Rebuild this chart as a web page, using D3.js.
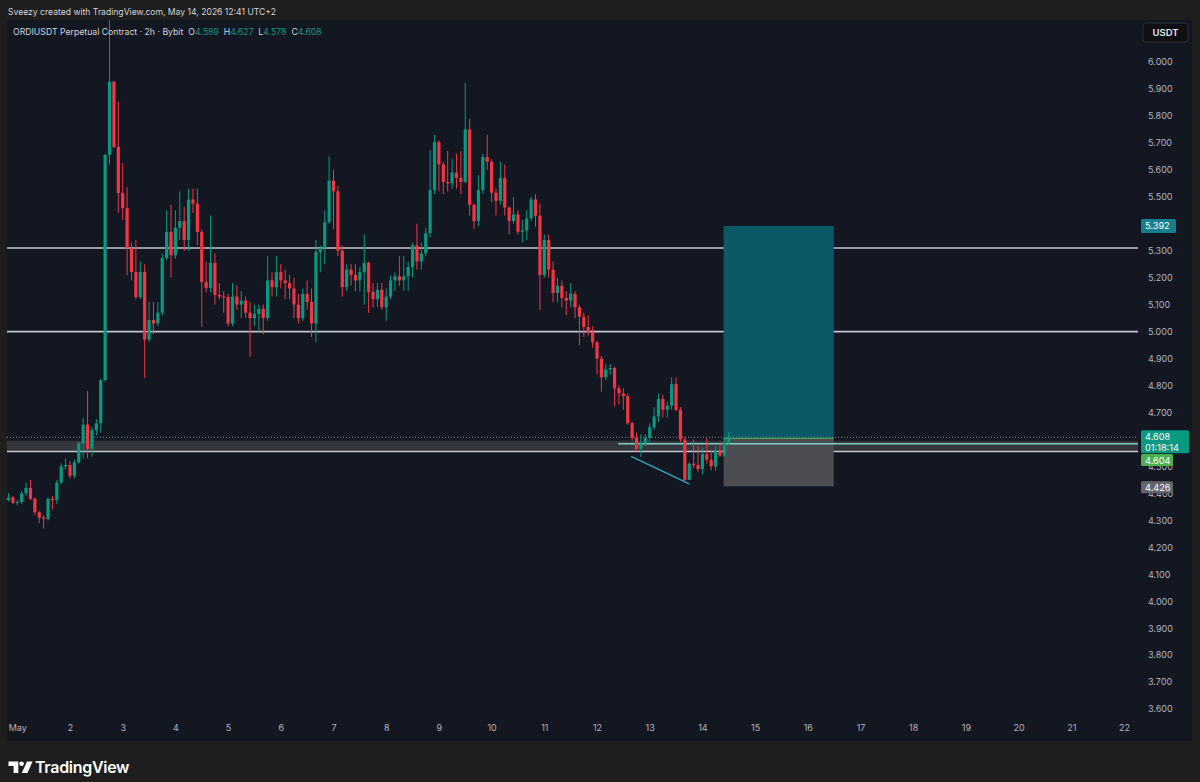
<!DOCTYPE html>
<html>
<head>
<meta charset="utf-8">
<script src="https://cdn.jsdelivr.net/npm/d3@7"></script>
<style>
  html, body { margin: 0; padding: 0; background: #1e1e1e; }
  svg { display: block; font-family: Inter, "Noto Sans", sans-serif; }
</style>
</head>
<body>
<div id="chart"></div>
<script>
'use strict';

// ORDIUSDT 2h bars, first bar opens Apr 30 20:00
const startTime = new Date(2026, 3, 30, 20, 0);

const opens = [
    4.375, 4.385, 4.365, 4.368, 4.40, 4.42, 4.38, 4.33, 4.31, 4.305,
    4.38, 4.375, 4.44, 4.50, 4.505, 4.465, 4.515, 4.585, 4.655, 4.565,
    4.635, 4.66, 4.82, 5.655, 5.927, 5.685, 5.514, 5.458, 5.31, 5.221,
    5.128, 5.221, 4.97, 5.043, 5.03, 5.07, 5.273, 5.37, 5.283, 5.385,
    5.41, 5.34, 5.49, 5.475, 5.37, 5.184, 5.162, 5.255, 5.136, 5.13,
    5.128, 5.03, 5.13, 5.10, 5.115, 5.07, 5.05, 5.065, 5.085, 5.05,
    5.19, 5.165, 5.22, 5.19, 5.18, 5.16, 5.10, 5.05, 5.14, 5.11,
    5.03, 5.295, 5.31, 5.405, 5.56, 5.52, 5.30, 5.165, 5.23, 5.21, 5.19,
    5.22, 5.255, 5.147, 5.12, 5.155, 5.09, 5.13, 5.19, 5.205, 5.19,
    5.205, 5.24, 5.32, 5.26, 5.29, 5.365, 5.525, 5.703, 5.62, 5.555,
    5.55, 5.59, 5.57, 5.555, 5.75, 5.47, 5.41, 5.525, 5.648, 5.63,
    5.515, 5.485, 5.57, 5.46, 5.41, 5.435, 5.37, 5.375, 5.42, 5.49, 5.43, 5.21,
    5.34, 5.23, 5.143, 5.17, 5.125, 5.115, 5.14, 5.09, 5.055, 5.017,
    4.998, 4.96, 4.90, 4.83, 4.86, 4.865, 4.79, 4.77, 4.76, 4.66,
    4.605, 4.565, 4.585, 4.605, 4.645, 4.685, 4.75, 4.71, 4.725, 4.805,
    4.71, 4.60, 4.45, 4.51, 4.505, 4.49, 4.545, 4.525, 4.50, 4.56, 4.54, 4.589
];
const highs = [
    4.40, 4.39, 4.375, 4.41, 4.44, 4.45, 4.385, 4.335, 4.32, 4.385,
    4.39, 4.45, 4.51, 4.53, 4.52, 4.525, 4.59, 4.68, 4.78, 4.645,
    4.675, 4.825, 5.66, 6.20, 5.93, 5.853, 5.625, 5.536, 5.33, 5.34,
    5.26, 5.25, 5.11, 5.11, 5.11, 5.29, 5.45, 5.47, 5.45, 5.52,
    5.463, 5.53, 5.53, 5.53, 5.38, 5.26, 5.43, 5.29, 5.18, 5.15,
    5.14, 5.18, 5.17, 5.15, 5.13, 5.11, 5.10, 5.10, 5.10, 5.28,
    5.22, 5.28, 5.25, 5.23, 5.21, 5.20, 5.14, 5.16, 5.19, 5.16,
    5.34, 5.32, 5.45, 5.65, 5.60, 5.54, 5.32, 5.25, 5.25, 5.25, 5.24,
    5.36, 5.26, 5.18, 5.18, 5.18, 5.16, 5.21, 5.22, 5.28, 5.28,
    5.26, 5.33, 5.40, 5.33, 5.385, 5.674, 5.73, 5.71, 5.63, 5.67,
    5.64, 5.66, 5.67, 5.922, 5.79, 5.475, 5.58, 5.66, 5.73, 5.64,
    5.53, 5.63, 5.62, 5.465, 5.50, 5.45, 5.415, 5.45, 5.50, 5.51, 5.475, 5.36,
    5.36, 5.26, 5.20, 5.19, 5.15, 5.18, 5.15, 5.10, 5.07, 5.06,
    5.02, 4.965, 4.91, 4.88, 4.88, 4.87, 4.80, 4.79, 4.77, 4.665,
    4.625, 4.62, 4.62, 4.66, 4.72, 4.77, 4.765, 4.74, 4.83, 4.83,
    4.72, 4.61, 4.515, 4.60, 4.575, 4.57, 4.605, 4.56, 4.575, 4.59, 4.605, 4.627
];
const lows = [
    4.37, 4.36, 4.355, 4.36, 4.39, 4.375, 4.32, 4.29, 4.27, 4.30,
    4.34, 4.36, 4.435, 4.49, 4.455, 4.455, 4.51, 4.53, 4.53, 4.535,
    4.615, 4.625, 4.815, 5.62, 5.68, 5.44, 5.414, 5.21, 5.19, 5.12,
    5.12, 4.828, 4.96, 4.99, 5.02, 5.06, 5.265, 5.20, 5.27, 5.34,
    5.30, 5.30, 5.44, 5.32, 5.018, 5.145, 5.145, 5.10, 5.12, 5.07,
    5.02, 5.02, 5.08, 5.05, 5.05, 4.907, 5.02, 5.00, 4.99, 5.04,
    5.13, 5.13, 5.16, 5.12, 5.12, 5.05, 5.03, 5.04, 5.08, 4.98,
    4.96, 5.22, 5.25, 5.40, 5.38, 5.28, 5.13, 5.15, 5.17, 5.15, 5.15,
    5.10, 5.069, 5.09, 5.09, 5.08, 5.04, 5.12, 5.15, 5.17, 5.15,
    5.15, 5.20, 5.23, 5.23, 5.28, 5.35, 5.51, 5.52, 5.51, 5.52,
    5.53, 5.53, 5.51, 5.55, 5.43, 5.38, 5.39, 5.51, 5.60, 5.48,
    5.43, 5.47, 5.43, 5.36, 5.40, 5.36, 5.33, 5.34, 5.41, 5.39, 5.08, 5.20,
    5.20, 5.11, 5.11, 5.09, 5.06, 5.09, 5.05, 4.95, 4.98, 4.985,
    4.94, 4.84, 4.777, 4.82, 4.84, 4.722, 4.73, 4.71, 4.655, 4.595,
    4.555, 4.535, 4.575, 4.59, 4.635, 4.665, 4.68, 4.68, 4.71, 4.705,
    4.59, 4.445, 4.45, 4.495, 4.48, 4.47, 4.51, 4.485, 4.485, 4.535, 4.535, 4.578
];
const closes = [
    4.385, 4.365, 4.368, 4.40, 4.42, 4.38, 4.33, 4.31, 4.305, 4.38,
    4.375, 4.44, 4.50, 4.505, 4.465, 4.515, 4.585, 4.655, 4.565, 4.635,
    4.66, 4.82, 5.655, 5.927, 5.685, 5.514, 5.458, 5.31, 5.221, 5.128,
    5.221, 4.97, 5.043, 5.03, 5.07, 5.273, 5.37, 5.283, 5.385, 5.41,
    5.34, 5.49, 5.475, 5.37, 5.184, 5.162, 5.255, 5.136, 5.13, 5.128,
    5.03, 5.13, 5.10, 5.115, 5.07, 5.05, 5.065, 5.085, 5.05, 5.19,
    5.165, 5.22, 5.19, 5.18, 5.16, 5.10, 5.05, 5.14, 5.11, 5.03,
    5.295, 5.31, 5.405, 5.56, 5.52, 5.30, 5.165, 5.23, 5.21, 5.19, 5.22,
    5.255, 5.147, 5.12, 5.155, 5.09, 5.13, 5.19, 5.205, 5.19, 5.205,
    5.24, 5.32, 5.26, 5.29, 5.365, 5.525, 5.703, 5.62, 5.555, 5.55,
    5.59, 5.57, 5.555, 5.75, 5.47, 5.41, 5.525, 5.648, 5.63, 5.515,
    5.485, 5.57, 5.46, 5.41, 5.435, 5.37, 5.375, 5.42, 5.49, 5.43, 5.21, 5.34,
    5.23, 5.143, 5.17, 5.125, 5.115, 5.14, 5.09, 5.055, 5.017, 4.998,
    4.96, 4.90, 4.83, 4.86, 4.865, 4.79, 4.77, 4.76, 4.66, 4.605,
    4.565, 4.585, 4.605, 4.645, 4.685, 4.75, 4.71, 4.725, 4.805, 4.71,
    4.60, 4.45, 4.51, 4.505, 4.49, 4.545, 4.525, 4.50, 4.56, 4.54, 4.589, 4.608
];

// 5.400 and 4.600 sit under the price tags, so they are left out
const priceTicks = [3.6, 3.7, 3.8, 3.9, 4.0, 4.1, 4.2, 4.3, 4.4, 4.5, 4.7, 4.8,
    4.9, 5.0, 5.1, 5.2, 5.3, 5.5, 5.6, 5.7, 5.8, 5.9, 6.0];

// drawings
const levels = [5.31, 5.0, 4.555];
const zoneBand = [4.555, 4.595];
const rayLevel = { t: new Date(2026, 4, 12, 9, 40), p: 4.584 };
const trendLine = [
    { t: new Date(2026, 4, 12, 15, 30), p: 4.537 },
    { t: new Date(2026, 4, 13, 18, 0), p: 4.435 }
];
const position = {
    from: new Date(2026, 4, 14, 9, 40),
    to: new Date(2026, 4, 16, 11, 50),
    entry: 4.604, target: 5.392, stop: 4.426
};
const countdown = '01:18:14';

const W = 1200, H = 782;
const panel = { x0: 7, x1: 1192, y0: 20, y1: 741 };
const plot = { x0: 7, x1: 1138, y0: 20, y1: 718 };
const UP = '#089981', DOWN = '#f23645';

const bars = opens.map((o, i) => ({
    t: d3.timeHour.offset(startTime, 2 * i),
    o: o, h: highs[i], l: lows[i], c: closes[i]
}));
const last = bars[bars.length - 1];

const x = d3.scaleTime()
    .domain([new Date(2026, 4, 1), new Date(2026, 4, 23)])
    .range([17.3, 1176.7]);
const y = d3.scaleLinear().domain([3.6, 6.0]).range([709, 62]);

const svg = d3.select('#chart').append('svg')
    .attr('width', W).attr('height', H);

svg.append('rect').attr('width', W).attr('height', H).attr('fill', '#1e1e1e');
svg.append('rect')
    .attr('x', panel.x0).attr('y', panel.y0)
    .attr('width', panel.x1 - panel.x0).attr('height', panel.y1 - panel.y0)
    .attr('fill', '#131722');

svg.append('clipPath').attr('id', 'plotClip')
    .append('rect')
    .attr('x', plot.x0).attr('y', plot.y0)
    .attr('width', plot.x1 - plot.x0).attr('height', plot.y1 - plot.y0);

const g = svg.append('g').attr('clip-path', 'url(#plotClip)');

// grey zone + horizontal levels
g.append('rect')
    .attr('x', plot.x0).attr('width', plot.x1 - plot.x0)
    .attr('y', y(zoneBand[1])).attr('height', y(zoneBand[0]) - y(zoneBand[1]))
    .attr('fill', '#35373e');

g.selectAll('line.level').data(levels).join('line')
    .attr('class', 'level')
    .attr('x1', plot.x0).attr('x2', plot.x1)
    .attr('y1', d => y(d)).attr('y2', d => y(d))
    .attr('stroke', '#c3c6ce').attr('stroke-width', 1.6);

// long position box
g.append('rect')
    .attr('x', x(position.from)).attr('width', x(position.to) - x(position.from))
    .attr('y', y(position.target)).attr('height', y(position.entry) - y(position.target))
    .attr('fill', '#0c5966');
g.append('rect')
    .attr('x', x(position.from)).attr('width', x(position.to) - x(position.from))
    .attr('y', y(position.entry)).attr('height', y(position.stop) - y(position.entry))
    .attr('fill', '#4b4d53');

// current price dotted line
g.append('line')
    .attr('x1', plot.x0).attr('x2', plot.x1)
    .attr('y1', y(last.c)).attr('y2', y(last.c))
    .attr('stroke', '#8a8d96').attr('stroke-width', 1)
    .attr('stroke-dasharray', '1,2');

g.append('line')
    .attr('x1', x(position.from)).attr('x2', x(position.to))
    .attr('y1', y(position.entry)).attr('y2', y(position.entry))
    .attr('stroke', '#4caf50').attr('stroke-width', 1);

// horizontal ray and trend line
g.append('line')
    .attr('x1', x(rayLevel.t)).attr('x2', plot.x1)
    .attr('y1', y(rayLevel.p)).attr('y2', y(rayLevel.p))
    .attr('stroke', '#7fd0c3').attr('stroke-width', 1.6);

g.append('line')
    .attr('x1', x(trendLine[0].t)).attr('y1', y(trendLine[0].p))
    .attr('x2', x(trendLine[1].t)).attr('y2', y(trendLine[1].p))
    .attr('stroke', '#27a7b9').attr('stroke-width', 1.6);

// candles
const candle = g.append('g').selectAll('g').data(bars).join('g');
candle.append('line')
    .attr('x1', d => x(d.t)).attr('x2', d => x(d.t))
    .attr('y1', d => y(d.h)).attr('y2', d => y(d.l))
    .attr('stroke', d => d.c >= d.o ? UP : DOWN).attr('stroke-width', 1);
candle.append('rect')
    .attr('x', d => x(d.t) - 1.6).attr('width', 3.2)
    .attr('y', d => y(Math.max(d.o, d.c)))
    .attr('height', d => Math.max(1, Math.abs(y(d.o) - y(d.c))))
    .attr('fill', d => d.c >= d.o ? UP : DOWN);

// price axis
const yAxis = d3.axisRight(y)
    .tickValues(priceTicks).tickSize(0).tickPadding(0)
    .tickFormat(d3.format('.3f'));
const ya = svg.append('g').attr('transform', `translate(1148,0)`).call(yAxis);
ya.select('.domain').remove();
ya.selectAll('text').attr('fill', '#b2b5be').attr('font-size', 9).attr('font-family', 'Inter, sans-serif');

// time axis
const dayTicks = x.ticks(d3.timeDay.every(1)).filter(d => x(d) < plot.x1 - 5);
const xAxis = d3.axisBottom(x)
    .tickValues(dayTicks).tickSize(0).tickPadding(0)
    .tickFormat(d => d.getDate() === 1 ? 'May' : String(d.getDate()));
const xa = svg.append('g').attr('transform', `translate(0,725)`).call(xAxis);
xa.select('.domain').remove();
xa.selectAll('text').attr('fill', '#b2b5be').attr('font-size', 9).attr('font-family', 'Inter, sans-serif');

// price labels on the axis
function priceTag(yc, w, h, fill, lines) {
    const tag = svg.append('g');
    tag.append('rect')
        .attr('x', 1141).attr('y', yc - h / 2).attr('width', w).attr('height', h)
        .attr('rx', 1.5).attr('fill', fill);
    lines.forEach((t, i) => {
        tag.append('text')
            .attr('x', 1145).attr('y', yc - h / 2 + 9.8 + i * 10.5)
            .attr('fill', '#ffffff').attr('font-size', 9.2)
            .text(t);
    });
}
priceTag(y(position.target), 35, 14, '#157e8c', [position.target.toFixed(3)]);
priceTag(y(position.stop) + 1, 32, 12, '#64666d', [position.stop.toFixed(3)]);
priceTag(460, 32, 12, '#4caf50', [position.entry.toFixed(3)]);
priceTag(y(last.c) + 4.5, 48, 23, UP, [last.c.toFixed(3), countdown]);

// currency box
svg.append('rect')
    .attr('x', 1143).attr('y', 23).attr('width', 45).attr('height', 19)
    .attr('rx', 3).attr('fill', '#0f1014').attr('stroke', '#2a2e39');
svg.append('text')
    .attr('x', 1165.5).attr('y', 35.5).attr('text-anchor', 'middle')
    .attr('fill', '#e6e7ea').attr('font-size', 9.5).attr('font-weight', 600)
    .text('USDT');

// header and legend
svg.append('text')
    .attr('x', 8).attr('y', 15)
    .attr('fill', '#d1d4dc').attr('font-size', 8.6)
    .text('Sveezy created with TradingView.com, May 14, 2026 12:41 UTC+2');

const legend = svg.append('text')
    .attr('x', 13).attr('y', 34.5)
    .attr('fill', '#d1d4dc').attr('font-size', 8.7);
legend.append('tspan').text('ORDIUSDT Perpetual Contract · 2h · Bybit');
[['O', last.o], ['H', last.h], ['L', last.l], ['C', last.c]].forEach(([k, v]) => {
    legend.append('tspan').attr('dx', 5).attr('fill', '#d1d4dc').text(k);
    legend.append('tspan').attr('fill', UP).text(v.toFixed(3));
});

// TradingView logo
const logo = svg.append('g').attr('fill', '#ffffff');
logo.append('path').attr('d', 'M8.5,761.5 H18.3 V773 H13.6 V766 H8.5 Z');
logo.append('circle').attr('cx', 21.6).attr('cy', 763.8).attr('r', 2.3);
logo.append('path').attr('d', 'M27,761.5 H32.6 L27.4,773 H21.8 Z');
svg.append('text')
    .attr('x', 35).attr('y', 772.5)
    .attr('fill', '#ffffff').attr('font-size', 16).attr('font-weight', 600)
    .attr('letter-spacing', -0.3)
    .text('TradingView');
</script>
</body>
</html>
